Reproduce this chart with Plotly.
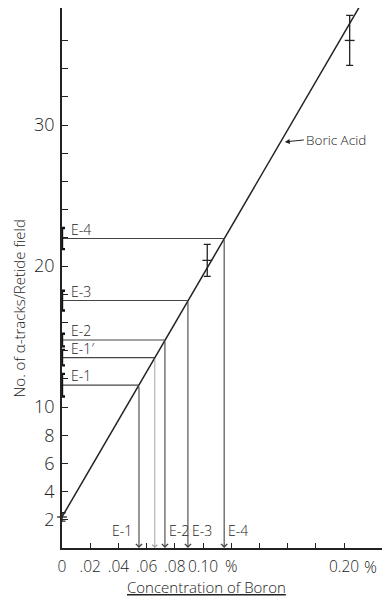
import plotly.graph_objects as go

# ---- data ----
line_conc = [0.0, 0.211]          # Boric Acid calibration line end points
line_tracks = [2.2, 38.4]

std_conc = [0.0, 0.103, 0.204]     # Boric acid standards
std_tracks = [2.2, 20.4, 36.0]
std_err = [0.3, 1.13, 1.77]

e_names = ["E-1", "E-1′", "E-2", "E-3", "E-4"]
e_tracks = [11.55, 13.5, 14.75, 17.55, 21.95]
e_err = [0.8, 0.55, 0.45, 0.7, 0.75]
e_conc = [0.0546, 0.0658, 0.0730, 0.0893, 0.1150]
e_bottom_side = ["left", None, "right", "right", "right"]

x_tickvals = [0, 0.02, 0.04, 0.06, 0.08, 0.10, 0.12, 0.14, 0.16, 0.18, 0.20]
x_ticktext = ["0", ".02", ".04", ".06", ".08", "0.10", "%", "", "", "", "0.20"]
y_tickvals = list(range(2, 37, 2))
y_labelled = [2, 4, 6, 8, 10, 20, 30]

INK = "#222222"
FONT = "Open Sans"

fig = go.Figure()

# calibration line
fig.add_trace(go.Scatter(x=line_conc, y=line_tracks, mode="lines",
                         line=dict(color=INK, width=1.5), hoverinfo="skip"))

# horizontal E lines
for name, xe, ye in zip(e_names, e_conc, e_tracks):
    fig.add_trace(go.Scatter(x=[0, xe], y=[ye, ye], mode="lines",
                             line=dict(color="#444444", width=1.1), hoverinfo="skip"))

# standards with error bars
fig.add_trace(go.Scatter(x=std_conc, y=std_tracks, mode="markers",
                         marker=dict(symbol="line-ew", size=7, line=dict(color=INK, width=1.3)),
                         error_y=dict(type="data", array=std_err, color=INK, thickness=1.3, width=3.5),
                         cliponaxis=False, hoverinfo="skip"))

# E error bars on the y axis
fig.add_trace(go.Scatter(x=[0] * len(e_tracks), y=e_tracks, mode="markers",
                         marker=dict(size=1, color="rgba(0,0,0,0)"),
                         error_y=dict(type="data", array=e_err, color="#111111", thickness=2.4, width=3),
                         cliponaxis=False, hoverinfo="skip"))

annotations = []
for name, xe, ye, side in zip(e_names, e_conc, e_tracks, e_bottom_side):
    light = name == "E-1′"
    # vertical arrows down to the x axis
    annotations.append(dict(x=xe, y=0, ax=xe, ay=ye, xref="x", yref="y", axref="x", ayref="y",
                            text="", showarrow=True, arrowhead=4, arrowsize=1.1,
                            arrowwidth=0.9 if light else 1.1,
                            arrowcolor="#999999" if light else "#444444"))
    # labels above horizontal lines
    annotations.append(dict(x=0, y=ye, xref="x", yref="y", text=name, showarrow=False,
                            xanchor="left", yanchor="bottom", xshift=7, yshift=-2,
                            font=dict(size=14, color=INK, family=FONT, weight=300)))
    if side:
        annotations.append(dict(x=xe, y=0, xref="x", yref="y", text=name, showarrow=False,
                                xanchor="right" if side == "left" else "left", yanchor="bottom",
                                xshift=-5 if side == "left" else 2, yshift=6,
                                font=dict(size=14, color=INK, family=FONT, weight=300)))

# Boric Acid label
annotations.append(dict(x=0.158, y=28.8, xref="x", yref="y", text="Boric Acid",
                        showarrow=True, ax=19, ay=-2, xanchor="left", yanchor="middle",
                        arrowhead=2, arrowsize=1, arrowwidth=1, arrowcolor=INK,
                        font=dict(size=13.5, color=INK, family=FONT, weight=300)))
# trailing % after 0.20
annotations.append(dict(x=0.20, y=0, xref="x", yref="y", text="%", showarrow=False,
                        xanchor="left", yanchor="top", xshift=18, yshift=-6,
                        font=dict(size=16, color=INK, family=FONT, weight=300)))
# axis titles
annotations.append(dict(x=-0.132, y=0.443, xref="paper", yref="paper",
                        text="No. of α-tracks/Retide field", textangle=-90, showarrow=False,
                        xanchor="center", yanchor="middle",
                        font=dict(size=15, color=INK, family=FONT, weight=300)))
annotations.append(dict(x=0.442, y=-0.072, xref="paper", yref="paper",
                        text="<u>Concentration of Boron</u>", showarrow=False,
                        xanchor="center", yanchor="middle",
                        font=dict(size=15, color=INK, family=FONT, weight=300)))

# the page body adds an 8 px offset; margins compensate so the plot area
# lands where the reference puts it
fig.update_layout(
    width=390, height=600,
    margin=dict(l=54, r=8, t=0, b=60, autoexpand=False),
    paper_bgcolor="white", plot_bgcolor="white",
    showlegend=False,
    font=dict(family=FONT, color=INK, weight=300),
    annotations=annotations,
    xaxis=dict(range=[0, 0.2326], showline=True, linecolor=INK, linewidth=1.6,
               ticks="inside", ticklen=5, tickwidth=1.2, tickcolor=INK,
               tickvals=x_tickvals, ticktext=x_ticktext, tickangle=0,
               tickfont=dict(size=15.5, family=FONT, weight=300), automargin=False,
               showgrid=False, zeroline=False, ticklabelstandoff=4),
    yaxis=dict(range=[0, 38.3], showline=True, linecolor=INK, linewidth=1.6,
               ticks="inside", ticklen=6, tickwidth=1.2, tickcolor=INK,
               tickvals=y_tickvals, automargin=False,
               ticktext=[str(v) if v in y_labelled else "" for v in y_tickvals],
               tickfont=dict(size=18, family=FONT, weight=300),
               showgrid=False, zeroline=False, ticklabelstandoff=2),
)

fig.write_html("out.html")
